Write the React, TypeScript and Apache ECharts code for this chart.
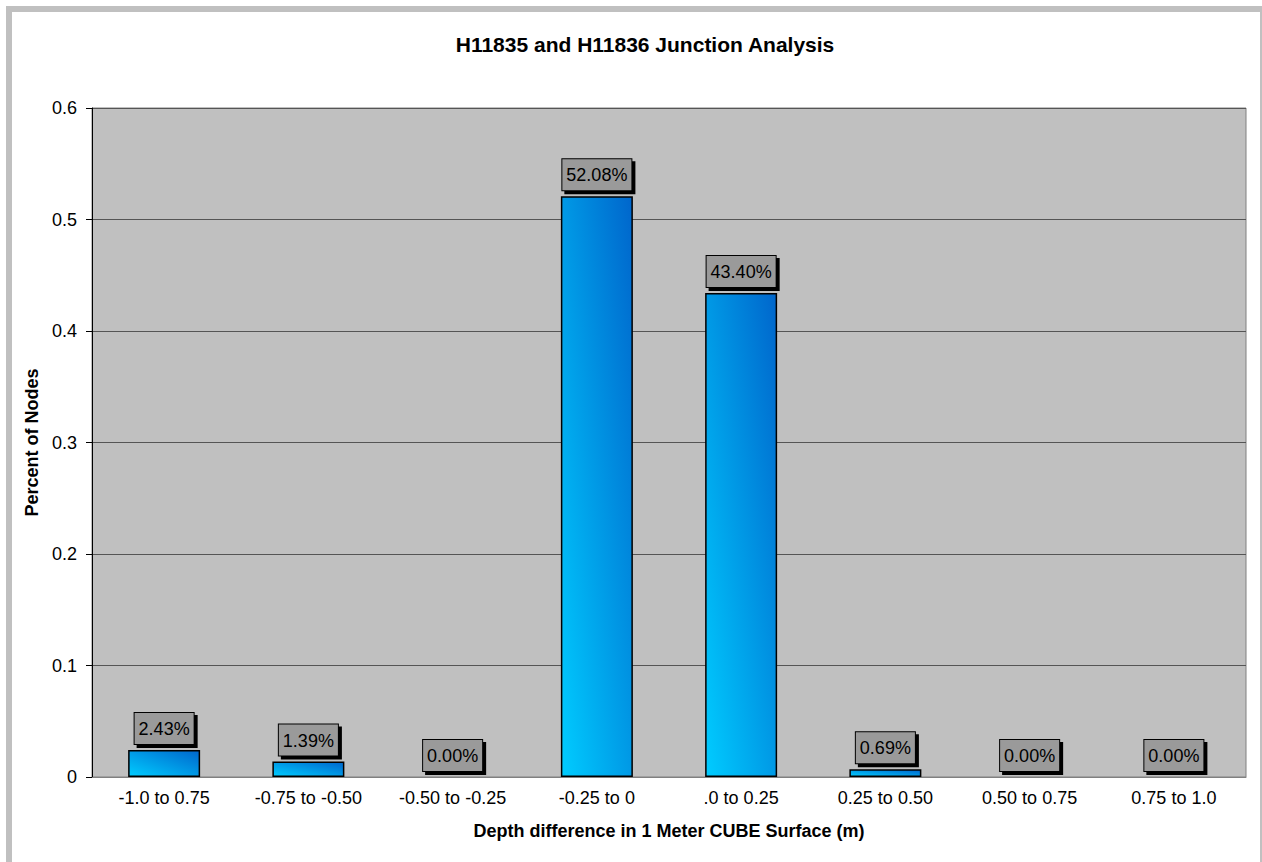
import React, { useEffect, useRef } from "react";
import * as echarts from "echarts";

const categories = [
  "-1.0 to 0.75",
  "-0.75 to -0.50",
  "-0.50 to -0.25",
  "-0.25 to 0",
  ".0 to 0.25",
  "0.25 to 0.50",
  "0.50 to 0.75",
  "0.75 to 1.0",
];
const percentOfNodes = [0.0243, 0.0139, 0, 0.5208, 0.434, 0.0069, 0, 0];
const yTicks = { min: 0, max: 0.6, interval: 0.1 };

const FONT = 'Arial, "Liberation Sans", sans-serif';

export default function App() {
  const ref = useRef<HTMLDivElement>(null);

  useEffect(() => {
    if (!ref.current) return;
    const chart = echarts.init(ref.current, undefined, { renderer: "svg" });

    // empty bins have no visible bar outline, only their label
    const barData = percentOfNodes.map((v) =>
      v === 0 ? { value: v, itemStyle: { borderWidth: 0 } } : v
    );

    chart.setOption({
      animation: false,
      backgroundColor: "#ffffff",
      textStyle: { fontFamily: FONT },
      graphic: [
        {
          type: "rect",
          shape: { x: 9, y: 9, width: 1254, height: 870 },
          style: { fill: "none", stroke: "#c0c0c0", lineWidth: 6 },
          silent: true,
        },
      ],
      title: {
        text: "H11835 and H11836 Junction Analysis",
        left: 640,
        top: 29,
        textAlign: "center",
        textStyle: { fontFamily: FONT, fontSize: 21, fontWeight: "bold", color: "#000" },
      },
      grid: {
        left: 92,
        right: 16,
        top: 108,
        bottom: 85,
        show: true,
        backgroundColor: "#c0c0c0",
        borderColor: "#808080",
        borderWidth: 1,
      },
      xAxis: {
        type: "category",
        data: categories,
        name: "Depth difference in 1 Meter CUBE Surface (m)",
        nameLocation: "middle",
        nameGap: 45,
        nameTextStyle: { fontFamily: FONT, fontSize: 18, fontWeight: "bold", color: "#000" },
        axisLine: { lineStyle: { color: "#808080" } },
        axisTick: { show: false },
        axisLabel: { fontFamily: FONT, fontSize: 18, color: "#000", margin: 12, interval: 0 },
      },
      yAxis: {
        type: "value",
        min: yTicks.min,
        max: yTicks.max,
        interval: yTicks.interval,
        name: "Percent of Nodes",
        nameLocation: "middle",
        nameGap: 50,
        nameTextStyle: { fontFamily: FONT, fontSize: 18, fontWeight: "bold", color: "#000" },
        axisLine: { show: true, lineStyle: { color: "#000" } },
        axisTick: { show: true, length: 6, lineStyle: { color: "#000" } },
        axisLabel: { fontFamily: FONT, fontSize: 18, color: "#000", margin: 15 },
        splitLine: { show: true, lineStyle: { color: "#555555", width: 1 } },
      },
      series: [
        {
          type: "bar",
          data: barData,
          barWidth: 72,
          itemStyle: {
            color: new echarts.graphic.LinearGradient(0, 1, 1, 0, [
              { offset: 0, color: "#00ccff" },
              { offset: 1, color: "#0066cc" },
            ]),
            borderColor: "#000",
            borderWidth: 1.5,
          },
          label: {
            show: true,
            position: "top",
            distance: 6,
            formatter: (p: any) => (p.value * 100).toFixed(2) + "%",
            fontFamily: FONT,
            fontSize: 18,
            color: "#000",
            backgroundColor: "#9a9a9a",
            borderColor: "#000",
            borderWidth: 1,
            padding: [7, 4, 6, 4],
            shadowColor: "#000",
            shadowBlur: 0,
            shadowOffsetX: 3,
            shadowOffsetY: 3,
          },
        },
      ],
    });
    return () => chart.dispose();
  }, []);

  return (
    <div
      ref={ref}
      style={{ position: "absolute", left: 0, top: 0, width: 1262, height: 862 }}
    />
  );
}
